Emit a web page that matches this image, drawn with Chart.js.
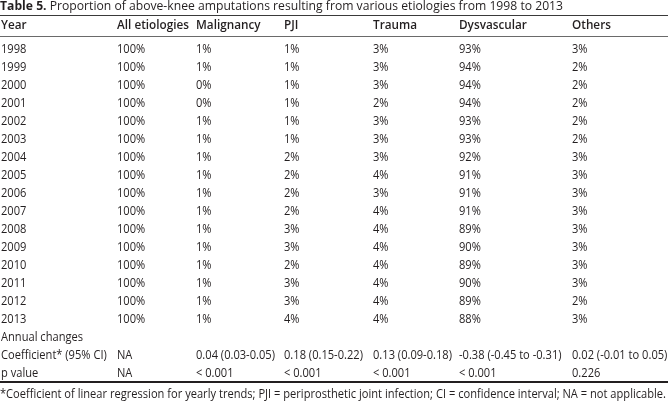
<!DOCTYPE html>
<html>
<head>
<meta charset="utf-8">
<script src="https://cdn.jsdelivr.net/npm/chart.js@4.4.1/dist/chart.umd.min.js"></script>
<style>
  html, body { margin: 0; padding: 0; background: #fff; }
  canvas { display: block; }
</style>
</head>
<body>
<canvas id="table5" width="668" height="403"></canvas>
<script>
// Table 5 data
const titleBold = 'Table 5.';
const titleText = ' Proportion of above-knee amputations resulting from various etiologies from 1998 to 2013';
const columns = ['Year', 'All etiologies', 'Malignancy', 'PJI', 'Trauma', 'Dysvascular', 'Others'];
const years = [1998, 1999, 2000, 2001, 2002, 2003, 2004, 2005, 2006, 2007, 2008, 2009, 2010, 2011, 2012, 2013];
const allEtiologies = [100, 100, 100, 100, 100, 100, 100, 100, 100, 100, 100, 100, 100, 100, 100, 100];
const malignancy = [1, 1, 0, 0, 1, 1, 1, 1, 1, 1, 1, 1, 1, 1, 1, 1];
const pji = [1, 1, 1, 1, 1, 1, 2, 2, 2, 2, 3, 3, 2, 3, 3, 4];
const trauma = [3, 3, 3, 2, 3, 3, 3, 4, 3, 4, 4, 4, 4, 4, 4, 4];
const dysvascular = [93, 94, 94, 94, 93, 93, 92, 91, 91, 91, 89, 90, 89, 90, 89, 88];
const others = [3, 2, 2, 2, 2, 2, 3, 3, 3, 3, 3, 3, 3, 3, 2, 3];
const annualLabel = 'Annual changes';
const coefficient = ['Coefficient* (95% CI)', 'NA', '0.04 (0.03-0.05)', '0.18 (0.15-0.22)', '0.13 (0.09-0.18)', '-0.38 (-0.45 to -0.31)', '0.02 (-0.01 to 0.05)'];
const pValue = ['p value', 'NA', '< 0.001', '< 0.001', '< 0.001', '< 0.001', '0.226'];
const footnote = '*Coefficient of linear regression for yearly trends; PJI = periprosthetic joint infection; CI = confidence interval; NA = not applicable.';

// layout (left edge of each column, table units = px across)
const colX = [1, 117, 196, 284, 373, 459, 572];
const INK = '#231f20';
const FONT = '"Open Sans", "Noto Sans", sans-serif';
const SIZE = '13px ';

// build the rows of text cells
const series = [allEtiologies, malignancy, pji, trauma, dysvascular, others];
const rows = years.map((yr, i) => [String(yr)].concat(series.map(s => s[i] + '%')));
rows.push([annualLabel]);
rows.push(coefficient);
rows.push(pValue);

const datasets = columns.map((name, c) => ({
  label: name,
  data: rows.map((r, i) => ({ x: colX[c], y: i, text: r[c] })).filter(p => p.text !== undefined),
  pointRadius: 0,
  pointHoverRadius: 0
}));

function squeezed(ctx, text, px, py, sx) {
  ctx.save();
  ctx.translate(px, py);
  ctx.scale(sx, 1);
  ctx.fillText(text, 0, 0);
  ctx.restore();
}

function rule(ctx, area, py, w, color) {
  ctx.fillStyle = color;
  ctx.fillRect(area.left, Math.round(py - w / 2), area.right - area.left, w);
}

const tablePlugin = {
  id: 'tableText',
  afterDatasetsDraw(chart) {
    const ctx = chart.ctx;
    const xs = chart.scales.x, ys = chart.scales.y;
    const cap = 4.6;
    ctx.save();
    ctx.textBaseline = 'alphabetic';
    ctx.fillStyle = INK;

    // horizontal squeeze so the wide Open Sans fits the narrow original face
    ctx.font = SIZE + FONT;
    const sx = 666 / ctx.measureText(footnote).width;
    ctx.font = '600 ' + SIZE + FONT;
    const sxHead = 72 / ctx.measureText(columns[1]).width;
    ctx.font = 'bold ' + SIZE + FONT;
    const boldW = ctx.measureText(titleBold).width;
    ctx.font = SIZE + FONT;
    const sxTitle = 563 / (boldW + ctx.measureText(titleText).width);

    // title
    const tb = ys.getPixelForValue(-2.38) + cap;
    ctx.font = 'bold ' + SIZE + FONT;
    squeezed(ctx, titleBold, xs.getPixelForValue(0), tb, sxTitle);
    ctx.font = SIZE + FONT;
    squeezed(ctx, titleText, xs.getPixelForValue(0) + boldW * sxTitle, tb, sxTitle);

    // rules
    rule(ctx, chart.chartArea, ys.getPixelForValue(-1.83), 1, '#3a3a3a');
    rule(ctx, chart.chartArea, ys.getPixelForValue(-0.64), 1, '#6a6a6a');
    rule(ctx, chart.chartArea, ys.getPixelForValue(18.56), 2, INK);

    // header
    ctx.fillStyle = INK;
    ctx.font = '600 ' + SIZE + FONT;
    columns.forEach((name, c) => squeezed(ctx, name, xs.getPixelForValue(colX[c]), ys.getPixelForValue(-1.3) + cap, sxHead));

    // body cells
    ctx.font = SIZE + FONT;
    chart.data.datasets.forEach((ds, di) => {
      chart.getDatasetMeta(di).data.forEach((pt, i) => {
        squeezed(ctx, ds.data[i].text, pt.x, pt.y + cap, sx);
      });
    });

    // footnote
    squeezed(ctx, footnote, xs.getPixelForValue(0), ys.getPixelForValue(19.17) + cap, sx);
    ctx.restore();
  }
};

new Chart(document.getElementById('table5'), {
  type: 'scatter',
  data: { datasets: datasets },
  options: {
    responsive: false,
    devicePixelRatio: 1,
    animation: false,
    layout: { padding: { top: 48, bottom: 31, left: 0, right: 0 } },
    plugins: { legend: { display: false }, tooltip: { enabled: false } },
    events: [],
    scales: {
      x: { type: 'linear', min: 0, max: 668, display: false },
      y: { type: 'linear', min: 0, max: 18, reverse: true, display: false }
    }
  },
  plugins: [tablePlugin]
});
</script>
</body>
</html>
